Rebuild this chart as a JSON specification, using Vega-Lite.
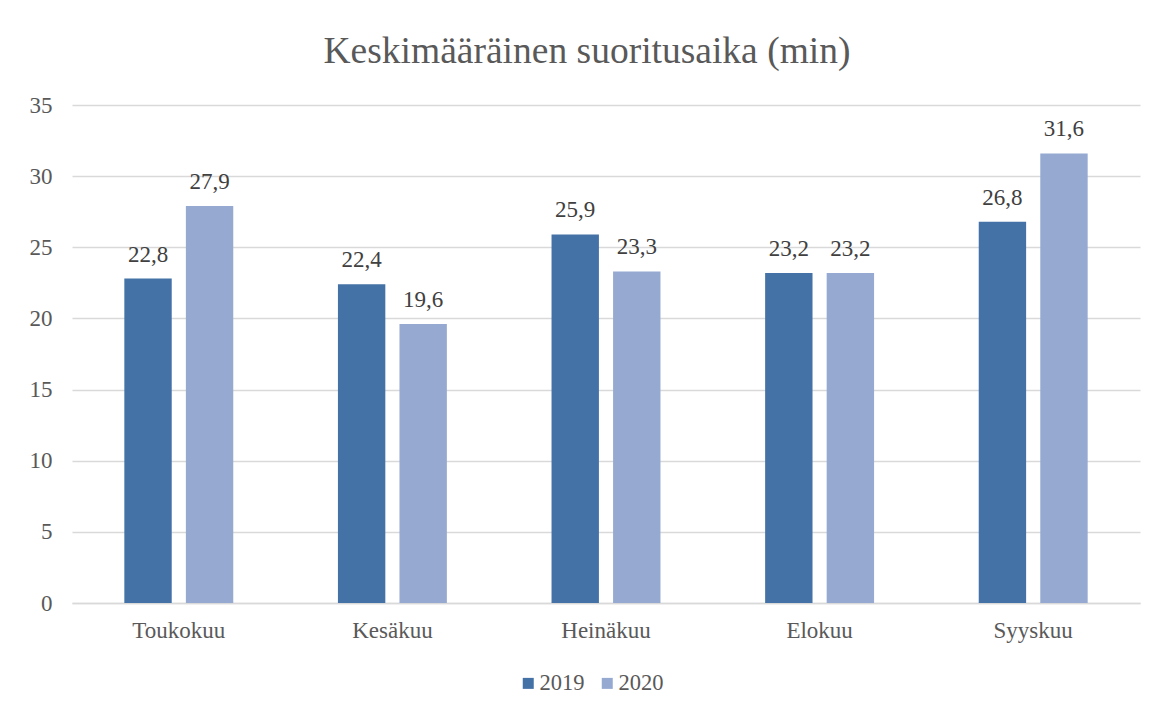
{
  "$schema": "https://vega.github.io/schema/vega-lite/v6.json",
  "autosize": "none",
  "width": 1068,
  "height": 498,
  "padding": {"left": 72, "top": 105, "right": 30, "bottom": 110},
  "background": "white",
  "config": {
    "font": "Liberation Serif",
    "view": {"stroke": null},
    "locale": {"number": {"decimal": ",", "thousands": " ", "grouping": [3], "currency": ["", " €"]}}
  },
  "title": {
    "text": "Keskimääräinen suoritusaika (min)",
    "font": "Liberation Serif",
    "fontSize": 37.5,
    "fontWeight": "normal",
    "color": "#595959",
    "anchor": "middle",
    "dx": -19,
    "offset": 24
  },
  "data": {
    "values": [
      {"kuukausi": "Toukokuu", "vuosi": "2019", "aika": 22.8},
      {"kuukausi": "Toukokuu", "vuosi": "2020", "aika": 27.9},
      {"kuukausi": "Kesäkuu", "vuosi": "2019", "aika": 22.4},
      {"kuukausi": "Kesäkuu", "vuosi": "2020", "aika": 19.6},
      {"kuukausi": "Heinäkuu", "vuosi": "2019", "aika": 25.9},
      {"kuukausi": "Heinäkuu", "vuosi": "2020", "aika": 23.3},
      {"kuukausi": "Elokuu", "vuosi": "2019", "aika": 23.2},
      {"kuukausi": "Elokuu", "vuosi": "2020", "aika": 23.2},
      {"kuukausi": "Syyskuu", "vuosi": "2019", "aika": 26.8},
      {"kuukausi": "Syyskuu", "vuosi": "2020", "aika": 31.6}
    ]
  },
  "encoding": {
    "x": {
      "field": "kuukausi",
      "type": "nominal",
      "sort": ["Toukokuu", "Kesäkuu", "Heinäkuu", "Elokuu", "Syyskuu"],
      "scale": {"paddingInner": 0.49, "paddingOuter": 0.245},
      "axis": {
        "title": null,
        "labelAngle": 0,
        "labelFont": "Liberation Serif",
        "labelFontSize": 23,
        "labelColor": "#595959",
        "labelPadding": 16,
        "ticks": false,
        "domainColor": "#d9d9d9",
        "domainWidth": 1.5,
        "grid": false
      }
    },
    "xOffset": {
      "field": "vuosi",
      "type": "nominal",
      "scale": {"paddingInner": 0.23, "paddingOuter": 0}
    },
    "y": {
      "field": "aika",
      "type": "quantitative",
      "scale": {"domain": [0, 35]},
      "axis": {
        "title": null,
        "values": [0, 5, 10, 15, 20, 25, 30, 35],
        "labelFont": "Liberation Serif",
        "labelFontSize": 23,
        "labelColor": "#595959",
        "labelPadding": 20,
        "ticks": false,
        "domain": false,
        "gridColor": "#d9d9d9",
        "gridWidth": 1.5
      }
    },
    "color": {
      "field": "vuosi",
      "type": "nominal",
      "scale": {"domain": ["2019", "2020"], "range": ["#4472a6", "#95a9d1"]},
      "legend": {
        "title": null,
        "orient": "none",
        "direction": "horizontal",
        "legendX": 445,
        "legendY": 567,
        "symbolType": "square",
        "symbolSize": 121,
        "symbolStrokeWidth": 0,
        "labelFont": "Liberation Serif",
        "labelFontSize": 22.5,
        "labelColor": "#595959",
        "labelOffset": 0,
        "columnPadding": 11
      }
    }
  },
  "layer": [
    {"mark": {"type": "bar"}},
    {
      "mark": {"type": "text", "dy": -12, "baseline": "bottom", "font": "Liberation Serif", "fontSize": 23, "color": "#404040"},
      "encoding": {
        "text": {"field": "aika", "type": "quantitative", "format": ".1f"},
        "color": {"value": "#404040"}
      }
    }
  ]
}
